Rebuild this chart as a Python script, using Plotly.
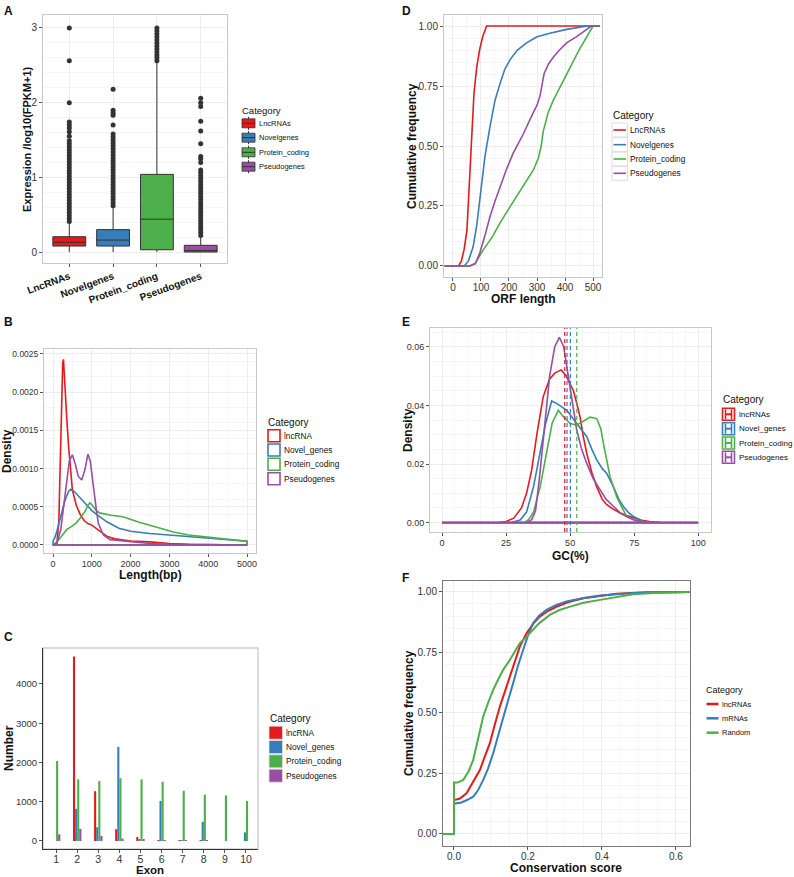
import plotly.graph_objects as go

W, H = 794, 877
FONT = "Liberation Sans, Arial, sans-serif"
COLORS = ["#E41A1C", "#377EB8", "#4DAF4A", "#984EA3"]

# ---------------- Panel A: expression boxplots ----------------
a_categories = ["LncRNAs", "Novelgenes", "Protein_coding", "Pseudogenes"]
a_q1 = [0.08, 0.08, 0.03, 0.0]
a_median = [0.13, 0.16, 0.44, 0.02]
a_q3 = [0.205, 0.30, 1.04, 0.09]
a_lower = [0.0, 0.0, 0.0, 0.0]
a_upper = [0.39, 0.61, 2.55, 0.21]
a_outliers = [
    [0.41, 0.45, 0.49, 0.53, 0.57, 0.61, 0.65, 0.69, 0.73, 0.77, 0.81, 0.85, 0.89, 0.93, 0.97,
     1.01, 1.05, 1.09, 1.13, 1.17, 1.21, 1.25, 1.29, 1.33, 1.37, 1.41, 1.45, 1.49, 1.55, 1.61,
     1.66, 1.70, 1.74, 2.00, 2.56, 3.00],
    [0.62, 0.66, 0.70, 0.74, 0.78, 0.82, 0.86, 0.90, 0.94, 0.98, 1.02, 1.06, 1.10, 1.14, 1.18,
     1.22, 1.26, 1.30, 1.34, 1.38, 1.42, 1.46, 1.50, 1.54, 1.58, 1.70, 1.83, 1.86, 1.90, 2.18],
    [2.56, 2.60, 2.64, 2.68, 2.72, 2.76, 2.80, 2.84, 2.88, 2.92, 2.96, 3.00],
    [0.22, 0.26, 0.30, 0.34, 0.38, 0.42, 0.46, 0.50, 0.54, 0.58, 0.62, 0.66, 0.70, 0.74, 0.78,
     0.82, 0.86, 0.90, 0.94, 0.98, 1.02, 1.06, 1.10, 1.20, 1.25, 1.28, 1.45, 1.62, 1.75, 1.95,
     2.00, 2.06],
]

# ---------------- Panel D: ORF length ECDF ----------------
d_categories = ["LncRNAs", "Novelgenes", "Protein_coding", "Pseudogenes"]
d_lnc_x = [-30, 20, 30, 40, 50, 60, 67, 75, 85, 95, 106, 115, 120, 525]
d_lnc_y = [0, 0, 0.02, 0.07, 0.15, 0.38, 0.55, 0.72, 0.83, 0.90, 0.955, 0.985, 1.0, 1.0]
d_nov_x = [-30, 40, 55, 72, 85, 96, 114, 132, 150, 168, 185, 204, 230, 263, 300, 346, 406, 480, 525]
d_nov_y = [0, 0, 0.02, 0.08, 0.17, 0.275, 0.455, 0.58, 0.69, 0.76, 0.82, 0.86, 0.90, 0.93, 0.955,
           0.97, 0.986, 1.0, 1.0]
d_pro_x = [-30, 60, 79, 108, 140, 168, 200, 227, 260, 287, 305, 315, 322, 340, 358, 380, 406, 450,
           500, 525]
d_pro_y = [0, 0, 0.01, 0.067, 0.12, 0.18, 0.24, 0.29, 0.35, 0.40, 0.45, 0.50, 0.56, 0.64, 0.69,
           0.74, 0.80, 0.90, 1.0, 1.0]
d_pse_x = [-30, 60, 80, 96, 115, 132, 150, 168, 190, 215, 251, 287, 300, 311, 318, 325, 340, 358,
           380, 406, 440, 465, 480, 494, 525]
d_pse_y = [0, 0, 0.01, 0.055, 0.13, 0.205, 0.27, 0.33, 0.40, 0.47, 0.55, 0.64, 0.67, 0.71, 0.76,
           0.80, 0.84, 0.87, 0.90, 0.93, 0.955, 0.976, 0.985, 1.0, 1.0]

# ---------------- Panel B: length density ----------------
b_categories = ["lncRNA", "Novel_genes", "Protein_coding", "Pseudogenes"]
b_lnc_x = [0, 100, 150, 200, 250, 270, 300, 350, 400, 450, 500, 600, 700, 800, 900, 1000, 1100,
           1200, 1400, 1600, 1800, 2000, 2500, 3000, 3500, 4000, 4500, 5000]
b_lnc_y = [0, 0.00002, 0.0003, 0.0015, 0.00238, 0.00243, 0.0021, 0.0017, 0.0013, 0.00095, 0.00072,
           0.00052, 0.00040, 0.00032, 0.00028, 0.00026, 0.00022, 0.00018, 0.00011, 0.00008,
           0.00006, 0.00005, 0.00004, 0.00002, 0.00001, 0.000005, 0.000003, 0.000002]
b_nov_x = [0, 50, 100, 180, 300, 400, 460, 550, 700, 800, 1000, 1200, 1400, 1700, 2000, 2500,
           3000, 3500, 4000, 4500, 5000]
b_nov_y = [0.00005, 0.0001, 0.00018, 0.00033, 0.00057, 0.0007, 0.00073, 0.0007, 0.00062, 0.00056,
           0.00045, 0.00037, 0.0003, 0.00022, 0.00018, 0.00015, 0.00013, 0.00011, 0.00009,
           0.00007, 0.00005]
b_pro_x = [0, 100, 200, 350, 500, 600, 700, 825, 900, 950, 1000, 1100, 1200, 1350, 1500, 1800,
           2200, 2700, 3100, 3500, 4000, 4400, 5000]
b_pro_y = [0.0, 0.00004, 0.0001, 0.0002, 0.00025, 0.00029, 0.00035, 0.00044, 0.00052, 0.00055,
           0.00053, 0.00046, 0.00042, 0.0004, 0.00039, 0.00037, 0.0003, 0.00023, 0.00017, 0.00013,
           0.0001, 0.00008, 0.00005]
b_pse_x = [0, 100, 200, 270, 350, 420, 500, 580, 650, 740, 820, 900, 960, 1040, 1120, 1170, 1300,
           1470, 1700, 2000, 2500, 3000, 4000, 5000]
b_pse_y = [0, 0.00002, 0.0002, 0.0005, 0.00085, 0.0011, 0.00118, 0.00105, 0.0009, 0.00085,
           0.00098, 0.00119, 0.0011, 0.00075, 0.00045, 0.00028, 0.00013, 0.00007, 0.00006,
           0.00004, 0.00002, 0.00001, 0.000005, 0]

# ---------------- Panel E: GC density ----------------
e_categories = ["lncRNAs", "Novel_genes", "Protein_coding", "Pseudogenes"]
e_lnc_x = [0, 22, 25, 28, 31, 33, 35, 37, 39.5, 42, 44, 46.5, 48.5, 50, 51.3, 52.5, 53.9, 55,
           56.5, 58.5, 60.4, 62.5, 64.3, 67, 69.5, 72, 74.7, 78, 81, 85, 100]
e_lnc_y = [0, 0, 0.0004, 0.0015, 0.005, 0.01, 0.018, 0.03, 0.043, 0.049, 0.051, 0.0521, 0.050,
           0.047, 0.045, 0.041, 0.036, 0.030, 0.0236, 0.017, 0.0122, 0.008, 0.0061, 0.0045,
           0.0033, 0.0024, 0.0016, 0.0008, 0.0004, 0.0001, 0]
e_nov_x = [0, 27, 30.5, 33, 35.7, 38.3, 40.5, 42.8, 45, 48.7, 52.6, 56.5, 58.5, 60.4, 62.5, 64.3,
           66.9, 69, 70.8, 72.7, 74.7, 78.6, 82, 100]
e_nov_y = [0, 0, 0.0009, 0.0036, 0.0122, 0.0236, 0.034, 0.0415, 0.0405, 0.0383, 0.0338, 0.0293,
           0.025, 0.0214, 0.0185, 0.0168, 0.0122, 0.008, 0.0055, 0.0035, 0.0021, 0.0004, 0.0001, 0]
e_pro_x = [0, 32, 33.8, 35.7, 38.3, 40.9, 43, 45.4, 47.5, 50, 52.6, 55, 57.8, 60.4, 62, 63, 64.5,
           65.6, 67, 68.2, 70, 72.1, 75, 77.3, 80, 100]
e_pro_y = [0, 0, 0.001, 0.0036, 0.0122, 0.0236, 0.034, 0.0383, 0.036, 0.0338, 0.0333, 0.0345,
           0.036, 0.0355, 0.032, 0.027, 0.020, 0.0156, 0.012, 0.0088, 0.0055, 0.0021, 0.0008,
           0.0004, 0.0001, 0]
e_pse_x = [0, 33, 35, 36.5, 38, 40, 42, 44, 45.8, 47.5, 50, 52.6, 54.5, 56.5, 59, 61.7, 64, 67,
           70, 72, 75, 78, 80, 100]
e_pse_y = [0, 0, 0.001, 0.004, 0.015, 0.032, 0.050, 0.060, 0.0632, 0.060, 0.046, 0.0315, 0.025,
           0.0202, 0.015, 0.011, 0.008, 0.0055, 0.003, 0.0021, 0.001, 0.0003, 0, 0]
e_means = [47.9, 50.1, 52.6, 48.8]

# ---------------- Panel C: exon number ----------------
c_categories = ["lncRNA", "Novel_genes", "Protein_coding", "Pseudogenes"]
c_exon = [1, 2, 3, 4, 5, 6, 7, 8, 9, 10]
c_lnc = [0, 4700, 1270, 300, 100, 20, 10, 5, 0, 0]
c_nov = [0, 820, 350, 2400, 50, 1020, 5, 490, 0, 220]
c_pro = [2040, 1570, 1530, 1600, 1570, 1510, 1280, 1180, 1160, 1020]
c_pse = [170, 310, 130, 60, 30, 10, 5, 5, 0, 0]

# ---------------- Panel F: conservation ECDF ----------------
f_categories = ["lncRNAs", "mRNAs", "Random"]
f_lnc_x = [-0.03, 0, 0, 0.015, 0.034, 0.05, 0.07, 0.083, 0.097, 0.11, 0.124, 0.138, 0.151, 0.165,
           0.178, 0.196, 0.215, 0.232, 0.255, 0.278, 0.31, 0.35, 0.44, 0.52, 0.638]
f_lnc_y = [0, 0, 0.14, 0.145, 0.168, 0.21, 0.264, 0.318, 0.375, 0.45, 0.526, 0.59, 0.65, 0.715,
           0.774, 0.829, 0.87, 0.898, 0.922, 0.939, 0.958, 0.974, 0.992, 0.998, 1.0]
f_mrna_x = [-0.03, 0, 0, 0.02, 0.035, 0.052, 0.065, 0.079, 0.092, 0.106, 0.12, 0.133, 0.147, 0.16,
            0.173, 0.187, 0.2, 0.214, 0.23, 0.25, 0.275, 0.304, 0.35, 0.395, 0.485, 0.638]
f_mrna_y = [0, 0, 0.125, 0.13, 0.14, 0.154, 0.18, 0.223, 0.27, 0.333, 0.41, 0.485, 0.555, 0.623,
            0.695, 0.76, 0.82, 0.871, 0.902, 0.926, 0.945, 0.96, 0.975, 0.985, 0.995, 1.0]
f_rand_x = [-0.03, 0, 0, 0.01, 0.025, 0.04, 0.052, 0.065, 0.079, 0.092, 0.106, 0.12, 0.133, 0.151,
            0.165, 0.178, 0.19, 0.205, 0.23, 0.259, 0.285, 0.314, 0.35, 0.395, 0.44, 0.485, 0.55,
            0.638]
f_rand_y = [0, 0, 0.212, 0.212, 0.223, 0.26, 0.306, 0.39, 0.485, 0.54, 0.595, 0.64, 0.678, 0.719,
            0.757, 0.788, 0.805, 0.829, 0.870, 0.905, 0.925, 0.939, 0.955, 0.967, 0.98, 0.990,
            0.996, 1.0]

# ================================================================
def PX(x):
    return x / W


def PY(y):
    return 1 - y / H


fig = go.Figure()
annotations = []
shapes = []


def text(t, x, y, size, bold=False, xanchor="left", yanchor="middle", angle=0, color="#111"):
    if bold:
        t = "<b>" + t + "</b>"
    annotations.append(dict(text=t, x=PX(x), y=PY(y), xref="paper", yref="paper",
                            showarrow=False, xanchor=xanchor, yanchor=yanchor, textangle=angle,
                            borderpad=0, font=dict(family=FONT, size=size, color=color)))


def rect(x0, y0, x1, y1, line=None, fill=None, lw=1):
    shapes.append(dict(type="rect", xref="paper", yref="paper", x0=PX(x0), x1=PX(x1),
                       y0=PY(y1), y1=PY(y0), line=dict(color=line or "rgba(0,0,0,0)", width=lw),
                       fillcolor=fill or "rgba(0,0,0,0)", layer="above"))


def hline(x0, x1, y, color, lw=1, dash="solid"):
    shapes.append(dict(type="line", xref="paper", yref="paper", x0=PX(x0), x1=PX(x1), y0=PY(y),
                       y1=PY(y), line=dict(color=color, width=lw, dash=dash), layer="above"))


def vline(x, y0, y1, color, lw=1, dash="solid"):
    shapes.append(dict(type="line", xref="paper", yref="paper", x0=PX(x), x1=PX(x), y0=PY(y0),
                       y1=PY(y1), line=dict(color=color, width=lw, dash=dash), layer="above"))


GRID = "#EDEDED"
MINOR = "#F6F6F6"
FRAME = "#C8C8C8"


def axis(domain, rng, anchor, size=9, grid=True, minor=True, frame=FRAME, mirror=True, **kw):
    d = dict(domain=domain, range=rng, anchor=anchor, showline=True, linecolor=frame,
             linewidth=1, mirror=mirror, ticks="outside", ticklen=3, tickcolor="#555",
             tickwidth=1, showgrid=grid, gridcolor=GRID, gridwidth=1, zeroline=False,
             automargin=False, tickfont=dict(family=FONT, size=size, color="#333"))
    if minor and grid:
        d["minor"] = dict(showgrid=True, gridcolor=MINOR, gridwidth=0.7, ticklen=0)
    d.update(kw)
    return d


layout = dict(width=W, height=H, margin=dict(l=0, r=0, t=0, b=0, pad=0, autoexpand=False),
              paper_bgcolor="white", plot_bgcolor="white", showlegend=False,
              font=dict(family=FONT), barmode="group", bargap=0.6, bargroupgap=0.0)

# ---------- A ----------
layout["xaxis"] = axis([PX(43), PX(227)], [-0.6, 3.6], "y", type="category", tickangle=-20,
                       tickfont=dict(family=FONT, size=10, color="#111", weight="bold"),
                       categoryorder="array", categoryarray=a_categories, minor=None)
layout["yaxis"] = axis([PY(263), PY(15)], [-0.147, 3.174], "x", size=10, tickvals=[0, 1, 2, 3],
                       minor=dict(showgrid=True, gridcolor=MINOR, ticklen=0, tickvals=[0.5, 1.5, 2.5]))
for i, cat in enumerate(a_categories):
    fig.add_trace(go.Box(x=[cat], q1=[a_q1[i]], median=[a_median[i]], q3=[a_q3[i]],
                         lowerfence=[a_lower[i]], upperfence=[a_upper[i]], fillcolor=COLORS[i],
                         line=dict(color="#333", width=1), width=0.75, whiskerwidth=0,
                         boxpoints=False, xaxis="x", yaxis="y", hoverinfo="skip"))
    fig.add_trace(go.Scatter(x=[cat] * len(a_outliers[i]), y=a_outliers[i], mode="markers",
                             marker=dict(color="#333", size=5), xaxis="x", yaxis="y"))
text("A", 3, 11, 12, bold=True)
text("Expression /log10(FPKM+1)", 27, 139, 11, bold=True, xanchor="center", angle=-90)
text("Category", 241, 110, 9.5)
for i, cat in enumerate(a_categories):
    yc = [123.3, 137.7, 152.3, 166.7][i]
    vline(248.5, yc - 6.5, yc + 6.5, "#333", 1)
    rect(242, yc - 4.5, 255, yc + 4.5, line="#333", fill=COLORS[i], lw=0.8)
    hline(242, 255, yc, "#333", 1)
    text(cat, 258, yc, 7.5)

# ---------- D ----------
layout["xaxis2"] = axis([PX(444), PX(602)], [-32, 532], "y2", size=10,
                        tickvals=[0, 100, 200, 300, 400, 500], ticklabelstandoff=-2)
layout["yaxis2"] = axis([PY(277), PY(15)], [-0.046, 1.046], "x2", size=10,
                        tickvals=[0, 0.25, 0.5, 0.75, 1.0], tickformat=".2f")
for xs, ys, c in [(d_lnc_x, d_lnc_y, COLORS[0]), (d_nov_x, d_nov_y, COLORS[1]),
                  (d_pro_x, d_pro_y, COLORS[2]), (d_pse_x, d_pse_y, COLORS[3])]:
    fig.add_trace(go.Scatter(x=xs, y=ys, mode="lines", line=dict(color=c, width=1.6),
                             xaxis="x2", yaxis="y2"))
text("D", 401, 11, 12, bold=True)
text("Cumulative frequency", 412, 146, 12, bold=True, xanchor="center", angle=-90)
text("ORF length", 523, 299, 12, bold=True, xanchor="center")
text("Category", 612, 116, 10)
for i, cat in enumerate(d_categories):
    yc = [130, 144.7, 159, 173.3][i]
    rect(612, yc - 7, 627.5, yc + 7, line="#DDDDDD", lw=1)
    hline(613.5, 626, yc, COLORS[i], 1.6)
    text(cat, 629, yc, 8.3)

# ---------- B ----------
layout["xaxis3"] = axis([PX(44), PX(256)], [-232, 5232], "y3", size=9,
                        tickvals=[0, 1000, 2000, 3000, 4000, 5000], ticklabelstandoff=-1)
layout["yaxis3"] = axis([PY(553), PY(349)], [-0.000105, 0.002565], "x3", size=8.5,
                        tickvals=[0, 0.0005, 0.001, 0.0015, 0.002, 0.0025], tickformat=".4f")
for xs, ys, c in [(b_lnc_x, b_lnc_y, COLORS[0]), (b_nov_x, b_nov_y, COLORS[1]),
                  (b_pro_x, b_pro_y, COLORS[2]), (b_pse_x, b_pse_y, COLORS[3])]:
    fig.add_trace(go.Scatter(x=list(xs) + [xs[-1], xs[0], xs[0]], y=list(ys) + [0, 0, ys[0]],
                             mode="lines", line=dict(color=c, width=1.6), xaxis="x3", yaxis="y3"))
text("B", 3, 322, 12, bold=True)
text("Density", 7, 451, 12, bold=True, xanchor="center", angle=-90)
text("Length(bp)", 150, 575, 12, bold=True, xanchor="center")
text("Category", 267, 422, 10)
for i, cat in enumerate(b_categories):
    yc = [435.7, 450, 464.3, 478.7][i]
    rect(268, yc - 6, 280, yc + 6, line=COLORS[i], lw=1.6)
    text(cat, 283, yc, 8.3)

# ---------- E ----------
layout["xaxis4"] = axis([PX(430), PX(711)], [-4.7, 105], "y4", size=9,
                        tickvals=[0, 25, 50, 75, 100], ticklabelstandoff=-1)
layout["yaxis4"] = axis([PY(532), PY(328)], [-0.0032, 0.0664], "x4", size=9,
                        tickvals=[0, 0.02, 0.04, 0.06], tickformat=".2f")
for i, (xs, ys) in enumerate([(e_lnc_x, e_lnc_y), (e_nov_x, e_nov_y), (e_pro_x, e_pro_y),
                              (e_pse_x, e_pse_y)]):
    fig.add_trace(go.Scatter(x=list(xs) + [xs[0]], y=list(ys) + [0], mode="lines",
                             line=dict(color=COLORS[i], width=1.6), xaxis="x4", yaxis="y4"))
for i, m in enumerate(e_means):
    shapes.append(dict(type="line", xref="x4", yref="y4 domain", x0=m, x1=m, y0=0, y1=1,
                       line=dict(color=COLORS[i], width=1.2, dash="4px,3px"), layer="above"))
text("E", 401, 322, 12, bold=True)
text("Density", 408, 430, 12, bold=True, xanchor="center", angle=-90)
text("GC(%)", 570, 556, 12, bold=True, xanchor="center")
text("Category", 722, 400, 10)
for i, cat in enumerate(e_categories):
    yc = [414.3, 428.7, 443, 457.3][i]
    rect(722.5, yc - 6, 734.5, yc + 6, line=COLORS[i], lw=1.6)
    vline(725.5, yc - 5, yc + 5, COLORS[i], 1.6)
    vline(731.5, yc - 5, yc + 5, COLORS[i], 1.6)
    hline(725.5, 731.5, yc, COLORS[i], 2)
    text(cat, 738, yc, 8)

# ---------- C ----------
layout["xaxis5"] = axis([PX(43), PX(258)], [0.38, 10.57], "y5", size=10.5, grid=False,
                        tickvals=c_exon, linecolor="#333", mirror=False, ticklabelstandoff=-3)
layout["yaxis5"] = axis([PY(849), PY(648)], [-204, 4917], "x5", size=9.5, grid=False,
                        tickvals=[0, 1000, 2000, 3000, 4000], linecolor="#333", mirror=False)
shapes.append(dict(type="rect", xref="paper", yref="paper", x0=PX(43), x1=PX(258), y0=PY(849),
                   y1=PY(648), line=dict(color="#D0D0D0", width=1.5), layer="below"))
for i, vals in enumerate([c_lnc, c_nov, c_pro, c_pse]):
    fig.add_trace(go.Bar(x=c_exon, y=vals, marker=dict(color=COLORS[i], line=dict(width=0)),
                         xaxis="x5", yaxis="y5", offsetgroup=str(i)))
text("C", 3, 637, 12, bold=True)
text("Number", 9, 748, 12, bold=True, xanchor="center", angle=-90)
text("Exon", 150, 877, 11.5, bold=True, xanchor="center", yanchor="bottom")
text("Category", 269, 718, 10)
for i, cat in enumerate(c_categories):
    yc = [732.7, 747, 761.3, 775.7][i]
    rect(269, yc - 6.5, 282.5, yc + 6.5, line="#DDDDDD", fill=COLORS[i], lw=0.8)
    text(cat, 285, yc, 8.3)

# ---------- F ----------
layout["xaxis6"] = axis([PX(443), PX(690)], [-0.0297, 0.638], "y6", size=10,
                        tickvals=[0, 0.2, 0.4, 0.6], tickformat=".1f", linecolor="#7A7A7A",
                        ticklabelstandoff=-2)
layout["yaxis6"] = axis([PY(846), PY(581)], [-0.05, 1.045], "x6", size=10,
                        tickvals=[0, 0.25, 0.5, 0.75, 1.0], tickformat=".2f", linecolor="#7A7A7A")
for xs, ys, c in [(f_lnc_x, f_lnc_y, COLORS[0]), (f_mrna_x, f_mrna_y, COLORS[1]),
                  (f_rand_x, f_rand_y, COLORS[2])]:
    fig.add_trace(go.Scatter(x=xs, y=ys, mode="lines", line=dict(color=c, width=2),
                             xaxis="x6", yaxis="y6"))
text("F", 401, 578, 12, bold=True)
text("Cumulative frequency", 409, 713, 12, bold=True, xanchor="center", angle=-90)
text("Conservation score", 566, 868, 12, bold=True, xanchor="center")
text("Category", 705, 690, 9)
for i, cat in enumerate(f_categories):
    yc = [704, 718.3, 732.7][i]
    hline(706.5, 718.5, yc, COLORS[i], 2.5)
    text(cat, 721, yc, 7.5)

layout["annotations"] = annotations
layout["shapes"] = shapes
fig.update_layout(**layout)
fig.write_html("out.html", config={"displayModeBar": False, "staticPlot": False},
               post_script="document.body.style.margin='0px';"
                           "document.body.style.overflow='hidden';")
